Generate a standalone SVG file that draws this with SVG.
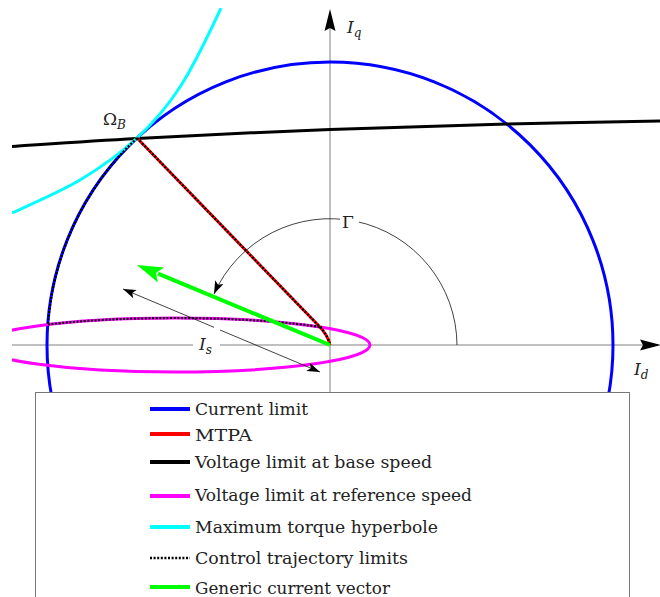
<svg xmlns="http://www.w3.org/2000/svg" width="660" height="597" viewBox="0 0 660 597">
<style>
.axis{stroke:#808080;stroke-width:1;fill:none}
.thin{stroke:#111;stroke-width:0.8;fill:none}
.curve{fill:none;stroke-width:3}
.dots{fill:none;stroke:#000;stroke-width:2.2;stroke-dasharray:2 1.6}
.legline{stroke-width:4}
</style>
<defs>
<clipPath id="plot"><rect x="12" y="8" width="648" height="589"/></clipPath>
<marker id="ah" markerUnits="userSpaceOnUse" markerWidth="16" markerHeight="12" viewBox="-14 -6 16 12" refX="0" refY="0" orient="auto">
<path d="M0,0 L-13,-4.5 L-10,0 L-13,4.5 Z" fill="#000"/>
</marker>
<marker id="ahs" markerUnits="userSpaceOnUse" markerWidth="16" markerHeight="12" viewBox="-14 -6 16 12" refX="0" refY="0" orient="auto-start-reverse">
<path d="M0,0 L-13,-4.5 L-10,0 L-13,4.5 Z" fill="#000"/>
</marker>
</defs>
<rect width="660" height="597" fill="#fff"/>

<g id="axes">
<line class="axis" x1="330" y1="28" x2="330" y2="393"/>
<line class="axis" x1="12" y1="345" x2="193" y2="345"/>
<line class="axis" x1="220" y1="345" x2="643" y2="345"/>
<path d="M330,9 L335.5,31 L330,28 L324.5,31 Z" fill="#000"/>
<path d="M661,345 L640,350.5 L643,345 L640,339.5 Z" fill="#000"/>
</g>

<g id="connectors" clip-path="url(#plot)">
<g id="current-limit"><circle class="curve" cx="330" cy="345" r="283" stroke="#0000ff"/></g>
<g id="voltage-base"><path class="curve" stroke="#000" d="M12,146.5 C32.8,145.2 84,141.3 137,138.5 C190,135.7 268.3,131.9 330,129.5 C391.7,127.1 452,125.4 507,124 C562,122.6 634.5,121.5 660,121"/></g>
<g id="voltage-ref"><ellipse class="curve" cx="175" cy="345" rx="195" ry="27" stroke="#ff00ff"/></g>
<g id="hyperbole"><path class="curve" stroke="#00ffff" d="M221,8 C208,36 194,65.3 180,87 C166,108.7 153.7,122.5 137,138 C120.3,153.5 100.8,167.5 80,180 C59.2,192.5 23.3,207.5 12,213"/></g>
<g id="mtpa"><path class="curve" stroke="#ff0000" d="M137,138 L318,325 Q328,335 330,345"/></g>
<g id="trajectory">
<path class="dots" d="M137,138 L318,325 Q328,335 330,345"/>
<path class="dots" d="M137,138 A283,283 0 0 0 48,324.5"/>
<path class="dots" d="M48,324.5 A195,27 0 0 1 322,327.3"/>
</g>
<g id="gamma-arc">
<path class="thin" d="M457,345 A127,127 0 0 0 214,294" marker-end="url(#ah)"/>
</g>
<g id="is-arrow">
<line class="thin" x1="123" y1="289" x2="214" y2="327.3" marker-start="url(#ahs)"/>
<line class="thin" x1="220" y1="330" x2="320" y2="372" marker-end="url(#ah)"/>
</g>
<g id="current-vector">
<line x1="330" y1="345" x2="158" y2="273.7" stroke="#00ff00" stroke-width="4"/>
<path d="M137,265 L164.1,267.6 L156,273 L157.9,282.4 Z" fill="#00ff00"/>
</g>
</g>

<g id="labels" font-family="'DejaVu Serif', 'Liberation Serif', serif" fill="#222">
<text x="347" y="33" font-size="17" font-style="italic">I<tspan font-size="12" dy="4">q</tspan></text>
<text x="103" y="125" font-size="17">Ω<tspan font-style="italic" font-size="12" dy="4">B</tspan></text>
<text x="199" y="350" font-size="17" font-style="italic">I<tspan font-size="12" dy="4">s</tspan></text>
<rect x="340" y="208" width="19" height="24" fill="#fff"/>
<text x="342" y="228" font-size="17">Γ</text>
<text x="634" y="375" font-size="17" font-style="italic">I<tspan font-size="12" dy="4">d</tspan></text>
</g>

<g id="legend" font-family="'DejaVu Serif', 'Liberation Serif', serif" font-size="17" fill="#222">
<rect x="35.5" y="392.5" width="594" height="215" fill="#fff" stroke="#777" stroke-width="1"/>
<line class="legline" x1="150" y1="409" x2="190" y2="409" stroke="#0000ff"/>
<text x="195" y="415" textLength="113" lengthAdjust="spacingAndGlyphs">Current limit</text>
<line class="legline" x1="150" y1="434" x2="190" y2="434" stroke="#ff0000"/>
<text x="195" y="441" textLength="57" lengthAdjust="spacingAndGlyphs">MTPA</text>
<line class="legline" x1="150" y1="462" x2="190" y2="462" stroke="#000"/>
<text x="195" y="468" textLength="237" lengthAdjust="spacingAndGlyphs">Voltage limit at base speed</text>
<line class="legline" x1="150" y1="496" x2="190" y2="496" stroke="#ff00ff"/>
<text x="195" y="501" textLength="277" lengthAdjust="spacingAndGlyphs">Voltage limit at reference speed</text>
<line class="legline" x1="150" y1="527" x2="190" y2="527" stroke="#00ffff"/>
<text x="195" y="533" textLength="243" lengthAdjust="spacingAndGlyphs">Maximum torque hyperbole</text>
<line x1="150" y1="558" x2="190" y2="558" stroke="#000" stroke-width="2.5" stroke-dasharray="2 1.6"/>
<text x="195" y="564" textLength="213" lengthAdjust="spacingAndGlyphs">Control trajectory limits</text>
<line class="legline" x1="150" y1="587" x2="190" y2="587" stroke="#00ff00"/>
<text x="195" y="594" textLength="195" lengthAdjust="spacingAndGlyphs">Generic current vector</text>
</g>
</svg>
